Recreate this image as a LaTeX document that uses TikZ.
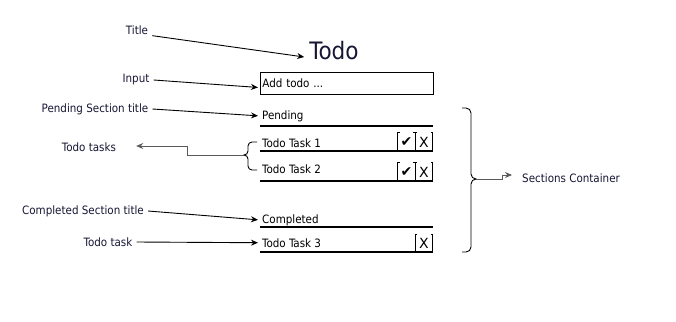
\documentclass[tikz,border=0pt]{standalone}
\usepackage{fontspec}
\setmainfont{DejaVu Sans Condensed}
\newfontfamily\symfont{DejaVu Sans}
\usetikzlibrary{arrows.meta,calc,positioning}
\definecolor{labelnavy}{RGB}{22,22,52}
\definecolor{linkgray}{RGB}{90,90,90}

\begin{document}
\begin{tikzpicture}[x=1pt,y=-1pt,
  note/.style={font=\fontsize{11.5}{13}\selectfont,text=labelnavy,inner xsep=4pt,inner ysep=1pt},
  item/.style={font=\fontsize{11.5}{13}\selectfont,anchor=base west,inner sep=1pt},
  arrow/.style={-{Stealth[length=7pt,width=6pt]},line width=0.9pt},
  link/.style={-{Stealth[length=7pt,width=6pt]},draw=linkgray,line width=0.9pt},
  rule/.style={line width=2pt},
  cell/.style={minimum width=17pt,minimum height=18pt,inner sep=0pt,
               font=\symfont\fontsize{14}{14}\selectfont},
  brace/.style={line width=0.9pt}]

\useasboundingbox (0,0) rectangle (676,321);

% the todo widget
\node[font=\fontsize{24}{26}\selectfont,text=labelnavy,inner sep=1pt] (todo) at (334,51) {Todo};
\node[draw,line width=0.9pt,anchor=north west,minimum width=173pt,minimum height=22pt,
      inner xsep=2pt,text width=169pt,align=left,font=\fontsize{11.5}{13}\selectfont]
  (input) at (260,72) {Add todo ...};

\foreach \name/\txt/\base/\line in {pending/Pending/119/126,taskone/Todo Task 1/147/151,
    tasktwo/Todo Task 2/173/181,completed/Completed/223/227,taskthree/Todo Task 3/247/252} {
  \node[item] (\name) at (261,\base) {\txt};
  \draw[rule] (260,\line) -- ++(173,0);
}

\node[cell] (checkone) at (406.5,142) {✔};
\node[cell] (crossone) at (424,142) {X};
\node[cell] (checktwo) at (406.5,172) {✔};
\node[cell] (crosstwo) at (424,172) {X};
\node[cell,minimum height=17pt] (crossthree) at (424,243.5) {X};
\foreach \c in {checkone,crossone,checktwo,crosstwo,crossthree} {
  \draw[line width=0.9pt] ([xshift=2pt]\c.north west) -| (\c.south west) -- ++(2,0);
  \draw[line width=0.9pt] ([xshift=-2pt]\c.north east) -| (\c.south east) -- ++(-2,0);
}

% labels
\node[note] (ltitle) at (137,30) {Title};
\node[note] (linput) at (136,80) {Input};
\node[note] (lpending) at (95,109) {Pending Section title};
\node[note] (ltasks) at (89,147) {Todo tasks};
\node[note] (lcompleted) at (83,211) {Completed Section title};
\node[note] (ltask) at (108,242) {Todo task};
\node[note,anchor=west] (lsections) at (518,178) {Sections Container};

\draw[arrow] (ltitle.south east) -- ($(todo.west)+(-4,6)$);
\draw[arrow] (linput.east) -- ($(input.west)+(-2,4)$);
\draw[arrow] (lpending.east) -- ($(pending.west)+(-3,0)$);
\draw[arrow] (lcompleted.east) -- ($(completed.west)+(-3,0)$);
\draw[arrow] (ltask.east) -- ($(taskthree.west)+(-3,0)$);

% braces
\draw[brace] (257,142) -- (252,142) to[out=180,in=90] (248,146) -- (248,151)
  to[out=-90,in=0] (244,155) to[out=0,in=90] (248,159) -- (248,166)
  to[out=-90,in=180] (252,170) -- (257,170);
\coordinate (tasksbrace) at (244,155);
\draw[link] (tasksbrace) -- ++(-57,0) |- ($(ltasks.east)+(16,-1)$);

\draw[brace] (462,108) -- (466,108) to[out=0,in=90] (471,113) -- (471,174)
  to[out=-90,in=180] (476,179) to[out=180,in=90] (471,184) -- (471,247)
  to[out=-90,in=0] (466,252) -- (462,252);
\coordinate (sectionsbrace) at (476,179);
\draw[link] (sectionsbrace) -- ++(26,0) |- ($(lsections.west)+(-6,-3)$);
\end{tikzpicture}
\end{document}
